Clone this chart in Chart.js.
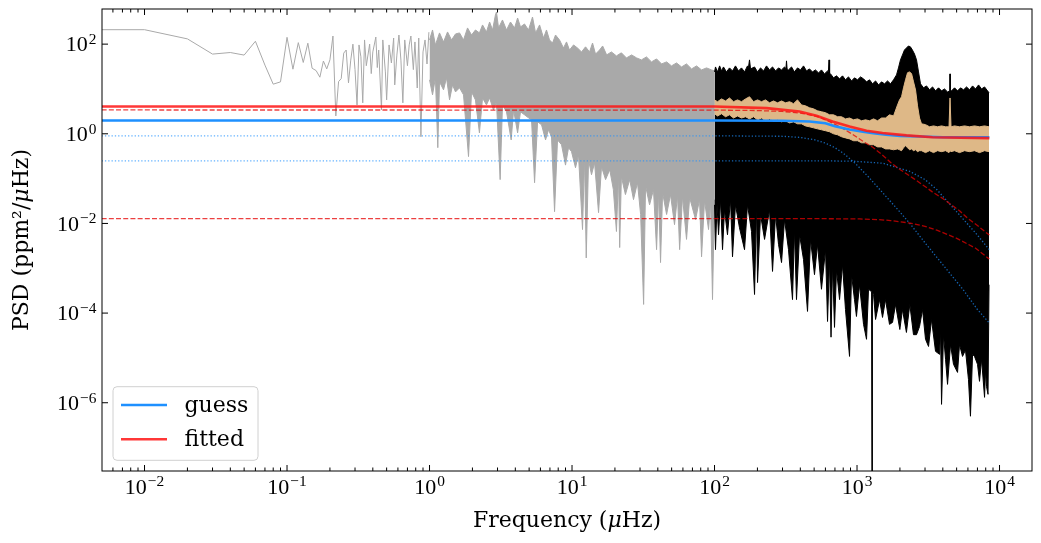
<!DOCTYPE html>
<html lang="en">

<head>
  <meta charset="UTF-8">
  <title>PSD fit</title>
  <script src="https://cdn.jsdelivr.net/npm/chart.js@4.4.1/dist/chart.umd.min.js"></script>
</head>

<body style="margin:0;background:#fff">
  <canvas id="psd" width="1041" height="543"></canvas>
  <script>
    // raw PSD, low-frequency part (individual bins)
    const grayLowFreq = [0.005, 0.01, 0.02, 0.03, 0.04, 0.05, 0.06, 0.07, 0.08, 0.09, 0.10, 0.11, 0.12, 0.13, 0.14, 0.15, 0.16, 0.17, 0.18, 0.19, 0.20, 0.21, 0.22, 0.23,
      0.24, 0.25, 0.26, 0.27, 0.28, 0.29, 0.30, 0.31, 0.32, 0.33, 0.34, 0.35, 0.36,
      0.38, 0.39, 0.40, 0.42, 0.43, 0.44, 0.46, 0.47, 0.49, 0.50, 0.52, 0.54, 0.56, 0.57, 0.59, 0.61, 0.63, 0.65, 0.67, 0.70, 0.72, 0.74, 0.77, 0.79, 0.82, 0.84, 0.87, 0.90, 0.93, 0.96, 0.99];
    const grayLowPsd = [210, 210, 131, 60, 65, 57, 116, 34, 12.8, 14.4, 142, 27.6, 108, 39, 105, 29, 25.7, 18.3, 42, 28, 44.6, 152, 2.5, 14.6,
      17, 63, 74, 13.7, 44, 100, 27, 4.4, 96, 52, 4.9, 124, 33,
      100, 22, 67, 144, 30, 74, 3.4, 124, 24, 5.7, 96, 38, 137, 12.3, 57, 160, 44, 4.9, 124, 33, 96, 152, 27, 112, 10.5, 137, 0.86, 67, 124, 36, 185];

    // raw PSD 1-100 uHz, dense: upper and lower edge
    const grayTopFreq = [1.0, 1.05, 1.10, 1.175, 1.254, 1.338, 1.427, 1.522, 1.624, 1.732, 1.848, 1.971, 2.10, 2.24, 2.355, 2.51, 2.64, 2.77, 2.90, 2.95,
      3.05, 3.25, 3.47, 3.70, 3.95, 4.15, 4.35, 4.64, 4.95, 5.28, 5.55, 5.92, 6.31, 6.62, 6.95, 7.30, 7.66, 8.17, 8.71, 9.15, 9.60,
      10.25, 10.93, 11.66, 12.44, 13.27, 13.93, 14.62, 15.6, 16.4, 17.5, 18.9, 20.5, 22.2, 24.1, 26.2, 28.4, 30.7, 33.3, 36.1, 39.2,
      42.5, 46.1, 49.9, 54.1, 58.7, 63.6, 69.0, 74.8, 81.1, 87.9, 95.3, 100];
    const grayTopPsd = [124, 207, 96, 178, 112, 187, 124, 169, 178, 124, 230, 160, 207, 178, 268, 187, 312, 207, 447, 521,
      230, 346, 207, 312, 230, 383, 242, 282, 207, 403, 178, 268, 137, 207, 124, 106, 160, 124, 82, 112, 74,
      96, 82, 67, 87, 67, 106, 60, 74, 91, 57.5, 67, 54.6, 64, 49.3, 57.5, 49.3, 44.5, 51.9, 40.2, 46.8,
      36.2, 40.2, 32.7, 38.1, 31, 36.2, 28, 32.7, 26.6, 29.5, 26.6, 25.3];
    const grayBotFreq = [1.0, 1.05, 1.10, 1.143, 1.175, 1.254, 1.316, 1.382, 1.45, 1.522, 1.624, 1.732, 1.878, 1.971, 2.10, 2.24, 2.355, 2.51, 2.64, 2.81, 2.95,
      3.13, 3.25, 3.47, 3.74, 3.89, 4.15, 4.35, 4.64, 4.95, 5.20, 5.46, 5.73, 6.11, 6.52, 6.84, 7.18, 7.54, 7.91, 8.44, 9.0, 9.45, 9.92,
      10.58, 11.1, 11.85, 12.24, 12.58, 13.06, 13.7, 14.4, 15.35, 16.1, 17.2, 18.4, 19.5, 20.5, 21.2, 21.6, 22.2, 23.7, 25.4, 27.0, 28.8,
      30.3, 31.8, 32.8, 35.0, 37.3, 39.2, 40.5, 41.8, 43.2, 46.1, 49.1, 52.4, 55.0, 56.9, 59.6, 63.6, 66.9, 73.6, 78.5, 81.1, 85.1,
      90.8, 93.8, 96.8, 100];
    const grayBotPsd = [16, 7.4, 17.7, 0.49, 14.4, 9.55, 17.7, 5.7, 12.3, 8.6, 10.6, 7.4, 0.31, 8.6, 5.7, 1.05, 6.3, 4.4, 6.3, 3.4, 5.16,
      0.095, 4.4, 3.09, 0.73, 3.4, 1.05, 3.09, 2.65, 2.27, 2.05, 0.081, 1.85, 1.59, 0.73, 1.23, 0.86, 0.0183, 0.73, 0.57, 0.20, 0.49, 0.40,
      0.175, 0.34, 0.0073, 0.29, 0.0017, 0.26, 0.122, 0.226, 0.0174, 0.184, 0.095, 0.158, 0.057, 0.0066, 0.122, 0.0029, 0.110, 0.044, 0.095, 0.034, 0.081,
      0.0158, 0.000156, 0.0695, 0.026, 0.057, 0.0026, 0.051, 0.00134, 0.0485, 0.0158, 0.044, 0.0094, 0.0416, 0.0026, 0.040, 0.0044, 0.0376, 0.0122, 0.034, 0.0018, 0.0322,
      0.0073, 0.0306, 0.0002, 0.034];

    // PSD above 100 uHz (black): upper and lower edge
    const blackTopFreq = [100, 101.6, 104.9, 108.6, 112, 115.6, 121.3, 127.4, 133.7, 140.3, 147.3, 154.6, 162.4, 170.4, 173, 176, 179, 190.9, 200.4,
      210.3, 220.8, 231.7, 243.2, 255.3, 268, 281.3, 295.3, 310, 317, 320, 323, 330.5, 346.9, 364, 382, 401, 421.2, 442, 464, 487, 511, 537, 563, 591,
      621, 630, 636, 642, 652, 684, 718, 754, 791, 830, 871, 915, 960, 1008, 1058, 1111, 1166, 1224, 1285, 1349, 1416, 1486, 1560, 1637, 1718, 1804,
      1893, 1954, 2018, 2084, 2152, 2222, 2295, 2370, 2447, 2532, 2615, 2701, 2789, 2929, 3074, 3228, 3388, 3556, 3733, 3918, 4113, 4317, 4480, 4494, 4510,
      4605, 4834, 5074, 5326, 5591, 5869, 6161, 6467, 6788, 7125, 7480, 7851, 8241, 8440];
    const blackTopPsd = [24, 31, 24, 32.7, 25.3, 31, 24, 29.5, 25.3, 32.7, 25.3, 29.5, 24, 32.7, 30, 44.5, 28, 31, 24,
      29.5, 25.3, 32.7, 26.6, 31, 25.3, 29.5, 26.6, 31, 28, 42.3, 28, 26.6, 31, 24, 29.5, 26.6, 32.7, 25.3, 28, 24, 26.6, 22.8, 26.6, 21.7,
      25.3, 25, 44.5, 22, 21.7, 17.7, 19.6, 16.8, 19.6, 16, 18.6, 15.1, 17.7, 16, 18.6, 16.8, 14.4, 16, 13, 15.1, 12.3, 14.4, 13, 15.1, 13, 16,
      20.6, 29.5, 44.5, 57.5, 74, 82, 91, 87, 74, 60, 44.5, 24, 13, 10.6, 11.7, 9.55, 11.1, 9.07, 10.6, 9.07, 10, 8.6, 9.07, 21.7, 9.07,
      9.07, 10.6, 9.07, 10.6, 9.55, 11.1, 9.55, 11.7, 10, 12.3, 10, 11.1, 9.07, 8.2];
    const blackBotFreq = [100, 101.6, 104.1, 106.7, 110.2, 113.8, 117.5, 123.3, 129.5, 133.7, 140.3, 149.7, 162.4, 170.4, 181.8, 190.9, 197.2, 200.4,
      210.3, 224.4, 243.2, 255.3, 268, 281.3, 295.3, 310, 330.5, 352.6, 364, 376, 395, 421.2, 449.4, 471.8, 503, 528, 563, 601, 621, 641, 657, 673, 695,
      718, 754, 791, 830, 886, 915, 960, 991, 1041, 1111, 1166, 1204, 1265, 1274, 1283, 1306, 1349, 1439, 1510, 1585, 1690, 1775, 1863, 1997,
      2084, 2222, 2347, 2490, 2615, 2745, 2882, 3025, 3176, 3333, 3556, 3795, 3855, 3918, 4046, 4180, 4317, 4530, 4754, 5074, 5238, 5500, 5768,
      6055, 6252, 6467, 6677, 7007, 7236, 7480, 7851, 7976, 8106, 8304, 8440];
    const blackBotPsd = [0.026, 0.0026, 0.026, 0.0056, 0.034, 0.0026, 0.020, 0.0056, 0.034, 0.0018, 0.026, 0.0080, 0.0026, 0.026, 0.0066, 0.00026, 0.026, 0.00048,
      0.0158, 0.0044, 0.020, 0.00085, 0.0158, 0.0034, 0.00134, 0.0122, 0.0026, 0.0002, 0.0073, 0.0002, 0.0056, 0.00156, 0.000109, 0.0044, 0.00072, 0.0034, 0.00034, 0.0026, 6.5e-5, 0.00156, 2.9e-5, 0.0012, 4.8e-5,
      0.00093, 0.0002, 0.0012, 0.00012, 1.08e-5, 0.00072, 0.0002, 8.4e-5, 0.00043, 5.6e-5, 2.6e-5, 0.00034, 0.0003, 1e-9, 0.0003, 0.00026, 7.2e-5, 0.0002, 8e-5, 0.0002, 5.6e-5, 6.2e-5, 0.000156, 4.3e-5,
      0.00012, 3.7e-5, 0.000156, 3.3e-5, 3.3e-5, 5e-5, 0.00012, 2.6e-5, 1.8e-5, 7.2e-5, 1.4e-5, 1.2e-5, 4.3e-5, 9.2e-7, 3.3e-5, 9.3e-6, 2.57e-6, 2e-5, 7.2e-6, 4.75e-6, 2e-5, 1.08e-5, 1.5e-5,
      3.3e-6, 5e-7, 1.2e-5, 1.08e-5, 7.2e-6, 3e-6, 9.3e-6, 1.32e-6, 5.5e-6, 2.3e-6, 1.54e-6, 0.00043];

    // smoothed PSD (tan band)
    const smoothFreq = [100, 105, 112, 119.5, 127.4, 135.9, 145, 154.6, 165, 176, 187.8, 200.4, 213.7, 228, 243.2, 259.4, 276.7, 295.3, 315, 336,
      358.4, 382, 407.8, 435, 464, 495, 528, 563, 601, 641, 684, 730, 778, 830, 886, 945, 1008, 1076, 1147, 1224, 1306, 1393, 1486, 1585, 1690, 1804,
      1924, 1987, 2053, 2120, 2190, 2262, 2336, 2413, 2492, 2574, 2658, 2745, 2835, 3025, 3228, 3442, 3672, 3918, 4180, 4422, 4494, 4567, 4833,
      5240, 5682, 6160, 6677, 7238, 7847, 8439];
    const smoothTopPsd = [5.7, 5.2, 6.0, 5.4, 6.3, 5.2, 5.7, 5.2, 6.0, 6.7, 5.2, 5.7, 5.2, 5.7, 4.9, 5.4, 4.9, 5.4, 4.9, 5.2,
      4.7, 5.7, 4.4, 4.2, 3.8, 3.6, 3.25, 3.1, 2.95, 2.65, 2.65, 2.4, 2.4, 2.15, 2.25, 2.05, 2.15, 1.95, 2.05, 1.95, 2.15, 1.95, 2.25, 2.25, 2.65, 2.5,
      4.4, 5.7, 6.7, 10.6, 16, 23, 24, 22, 14.4, 9.5, 4.2, 2.25, 1.67, 1.6, 1.43, 1.5, 1.43, 1.5, 1.43, 1.43, 6.3, 1.43, 1.5,
      1.43, 1.5, 1.43, 1.5, 1.43, 1.5, 1.43];
    const smoothBotPsd = [2.8, 2.5, 2.8, 2.4, 2.65, 2.25, 2.5, 2.25, 2.4, 2.15, 2.4, 2.05, 2.25, 1.95, 2.15, 1.95, 2.05, 1.85, 1.95, 1.75,
      1.85, 1.67, 1.67, 1.5, 1.43, 1.36, 1.29, 1.23, 1.17, 1.11, 1.0, 0.95, 0.86, 0.81, 0.77, 0.70, 0.70, 0.63, 0.63, 0.57, 0.57, 0.51, 0.51, 0.46, 0.46, 0.44,
      0.46, 0.44, 0.42, 0.49, 0.54, 0.49, 0.44, 0.46, 0.42, 0.44, 0.40, 0.42, 0.42, 0.38, 0.42, 0.38, 0.42, 0.40, 0.42, 0.38, 0.42, 0.40, 0.42,
      0.38, 0.42, 0.40, 0.42, 0.38, 0.42, 0.40];

    // background models
    const guessFreq = [0.005, 100, 300, 464, 600, 700, 886, 1100, 1300, 1600, 2000, 2800, 4000, 8480];
    const guessTotal = [1.98, 1.98, 1.96, 1.88, 1.72, 1.47, 1.25, 1.11, 1.03, 0.95, 0.90, 0.87, 0.84, 0.84];
    const guessH1Freq = [0.005, 100, 300, 400, 500, 600, 700, 800, 900, 1000, 1200, 1500, 2000, 2347, 3000, 4000, 5530, 7000, 8480];
    const guessH1 = [0.9, 0.9, 0.88, 0.83, 0.74, 0.62, 0.49, 0.37, 0.27, 0.2, 0.11, 0.05, 0.018, 0.01, 0.0037, 0.0012, 3.4e-4, 1.2e-4, 6e-5];
    const guessH2Freq = [0.005, 100, 500, 930, 1518, 2347, 3000, 3630, 4970, 6800, 8480];
    const guessH2 = [0.25, 0.25, 0.25, 0.245, 0.22, 0.145, 0.095, 0.057, 0.0186, 0.0061, 0.0026];
    const fitFreq = [0.005, 100, 232, 395, 520, 673, 886, 1166, 1510, 2222, 3388, 8480];
    const fitTotal = [4.05, 4.05, 3.73, 3.14, 2.52, 1.88, 1.45, 1.17, 1.04, 0.92, 0.84, 0.80];
    const fitH1Freq = [0.005, 100, 200, 300, 400, 464, 546, 670, 800, 930, 1100, 1290, 1500, 1720, 2000, 2500, 3100, 3390, 4000, 5265, 5900, 7000, 8480];
    const fitH1 = [3.4, 3.38, 3.3, 3.15, 2.9, 2.65, 2.35, 1.75, 1.3, 0.97, 0.68, 0.5, 0.34, 0.23, 0.16, 0.1, 0.062, 0.05, 0.036, 0.019, 0.0135, 0.009, 0.0055];
    const fitH2Freq = [0.005, 100, 500, 1046, 1400, 1720, 2347, 3000, 3630, 4970, 6800, 8480];
    const fitH2 = [0.0128, 0.0128, 0.0128, 0.0126, 0.0122, 0.0116, 0.0102, 0.0086, 0.0071, 0.0047, 0.0028, 0.0016];

    // ticks
    const xMajorTicks = [1e-2, 1e-1, 1, 1e1, 1e2, 1e3, 1e4];
    const xTickExps = ['\u22122', '\u22121', '0', '1', '2', '3', '4'];
    const yMajorTicks = [1e2, 1, 1e-2, 1e-4, 1e-6];
    const yTickExps = ['2', '0', '\u22122', '\u22124', '\u22126'];

    const pts = (fs, vs) => fs.map((f, i) => ({ x: f, y: vs[i] }));

    const GRAY = '#a9a9a9';
    const TAN = '#deb887';
    const BLUE = '#1e90ff';
    const RED = 'rgba(255,20,20,0.85)';

    const TICK_FONT = "22px 'Liberation Serif', 'DejaVu Serif', serif";
    const SUP_FONT = "15.4px 'Liberation Serif', 'DejaVu Serif', serif";
    const TEXT_FONT = "22px 'DejaVu Serif', serif";
    const ITAL_FONT = "italic 22px 'DejaVu Serif', serif";

    function drawPow(ctx, exp, x, y, align) {
      ctx.font = TICK_FONT;
      const w1 = ctx.measureText('10').width;
      ctx.font = SUP_FONT;
      const w2 = ctx.measureText(exp).width;
      const start = align === 'right' ? x - w1 - w2 - 1 : x - (w1 + w2 + 1) / 2;
      ctx.textAlign = 'left';
      ctx.textBaseline = 'alphabetic';
      ctx.font = TICK_FONT;
      ctx.fillText('10', start, y);
      ctx.font = SUP_FONT;
      ctx.fillText(exp, start + w1 + 1, y - 7.5);
    }

    function drawPieces(ctx, pieces, cx, y) {
      let total = 0;
      pieces.forEach(p => { ctx.font = p[1]; total += ctx.measureText(p[0]).width; });
      let x = cx - total / 2;
      ctx.textAlign = 'left';
      ctx.textBaseline = 'alphabetic';
      pieces.forEach(p => {
        ctx.font = p[1];
        ctx.fillText(p[0], x, y);
        x += ctx.measureText(p[0]).width;
      });
    }

    function line(ctx, x1, y1, x2, y2) {
      ctx.beginPath();
      ctx.moveTo(x1, y1);
      ctx.lineTo(x2, y2);
      ctx.stroke();
    }

    const decor = {
      id: 'decor',
      afterDatasetsDraw(chart) {
        const { ctx, chartArea: a, scales: { x, y } } = chart;
        ctx.save();
        ctx.strokeStyle = '#000';
        ctx.fillStyle = '#000';
        ctx.lineWidth = 1;
        ctx.strokeRect(a.left, a.top, a.right - a.left, a.bottom - a.top);

        // x ticks, inward on bottom and top
        for (let e = -3; e <= 4; e++) {
          for (let m = 1; m <= 9; m++) {
            const v = m * Math.pow(10, e);
            if (v <= x.min || v >= x.max) continue;
            const px = x.getPixelForValue(v);
            const len = m === 1 ? 6 : 3.5;
            line(ctx, px, a.bottom, px, a.bottom - len);
            line(ctx, px, a.top, px, a.top + len);
          }
        }
        xMajorTicks.forEach((v, i) => {
          drawPow(ctx, xTickExps[i], x.getPixelForValue(v), a.bottom + 22.5, 'center');
        });

        // y ticks, inward on left and right
        yMajorTicks.forEach((v, i) => {
          const py = y.getPixelForValue(v);
          line(ctx, a.left, py, a.left + 6, py);
          line(ctx, a.right, py, a.right - 6, py);
          drawPow(ctx, yTickExps[i], a.left - 5.5, py + 7.3, 'right');
        });

        // axis titles
        drawPieces(ctx, [['Frequency (', TEXT_FONT], ['\u03bc', ITAL_FONT], ['Hz)', TEXT_FONT]], (a.left + a.right) / 2, 527);
        ctx.save();
        ctx.translate(28, (a.top + a.bottom) / 2);
        ctx.rotate(-Math.PI / 2);
        drawPieces(ctx, [['PSD (ppm\u00b2/', TEXT_FONT], ['\u03bc', ITAL_FONT], ['Hz)', TEXT_FONT]], 0, 0);
        ctx.restore();

        // legend
        const lx = a.left + 11, ly = a.bottom - 84.3, lw = 145, lh = 73.6, r = 4;
        ctx.beginPath();
        ctx.moveTo(lx + r, ly);
        ctx.arcTo(lx + lw, ly, lx + lw, ly + lh, r);
        ctx.arcTo(lx + lw, ly + lh, lx, ly + lh, r);
        ctx.arcTo(lx, ly + lh, lx, ly, r);
        ctx.arcTo(lx, ly, lx + lw, ly, r);
        ctx.closePath();
        ctx.fillStyle = 'rgba(255,255,255,0.8)';
        ctx.fill();
        ctx.strokeStyle = '#d0d0d0';
        ctx.stroke();
        const items = [['guess', BLUE, 405], ['fitted', RED, 439.3]];
        items.forEach(([label, color, yy]) => {
          ctx.strokeStyle = color;
          ctx.lineWidth = 2.5;
          line(ctx, lx + 8, yy, lx + 54, yy);
          ctx.fillStyle = '#000';
          ctx.font = TEXT_FONT;
          ctx.textAlign = 'left';
          ctx.textBaseline = 'alphabetic';
          ctx.fillText(label, lx + 71.5, yy + 7);
        });
        ctx.restore();
      }
    };

    const series = [
      { data: pts(grayLowFreq, grayLowPsd), borderColor: GRAY, borderWidth: 1 },
      { data: pts(grayTopFreq, grayTopPsd), borderColor: GRAY, borderWidth: 1, fill: '+1', backgroundColor: GRAY },
      { data: pts(grayBotFreq, grayBotPsd), borderColor: GRAY, borderWidth: 1 },
      { data: pts(blackTopFreq, blackTopPsd), borderColor: '#000', borderWidth: 1, fill: '+1', backgroundColor: '#000' },
      { data: pts(blackBotFreq, blackBotPsd), borderColor: '#000', borderWidth: 1 },
      { data: pts(smoothFreq, smoothTopPsd), borderColor: TAN, borderWidth: 1, fill: '+1', backgroundColor: TAN },
      { data: pts(smoothFreq, smoothBotPsd), borderColor: TAN, borderWidth: 1 },
      { data: pts(guessH1Freq, guessH1), borderColor: 'rgba(30,144,255,0.7)', borderWidth: 1.3, borderDash: [1.3, 2] },
      { data: pts(guessH2Freq, guessH2), borderColor: 'rgba(30,144,255,0.7)', borderWidth: 1.3, borderDash: [1.3, 2] },
      { data: pts(fitH1Freq, fitH1), borderColor: 'rgba(230,0,0,0.75)', borderWidth: 1.3, borderDash: [5, 2.2] },
      { data: pts(fitH2Freq, fitH2), borderColor: 'rgba(230,0,0,0.75)', borderWidth: 1.3, borderDash: [5, 2.2] },
      { data: pts(guessFreq, guessTotal), borderColor: BLUE, borderWidth: 2.6 },
      { data: pts(fitFreq, fitTotal), borderColor: RED, borderWidth: 2.6 }
    ];
    series.forEach((d, i) => {
      d.order = 100 - i;
      d.pointRadius = 0;
      d.pointHitRadius = 0;
      d.tension = 0;
      if (!d.fill) d.fill = false;
    });

    new Chart(document.getElementById('psd'), {
      type: 'line',
      data: { datasets: series },
      options: {
        responsive: false,
        devicePixelRatio: 1,
        animation: false,
        events: [],
        layout: { padding: { left: 102, top: 9, right: 9, bottom: 72 } },
        plugins: { legend: { display: false }, tooltip: { enabled: false } },
        scales: {
          x: { type: 'logarithmic', min: 0.00503, max: 16900, display: false },
          y: { type: 'logarithmic', min: 3.1e-8, max: 608, display: false }
        }
      },
      plugins: [decor]
    });
  </script>
</body>

</html>
